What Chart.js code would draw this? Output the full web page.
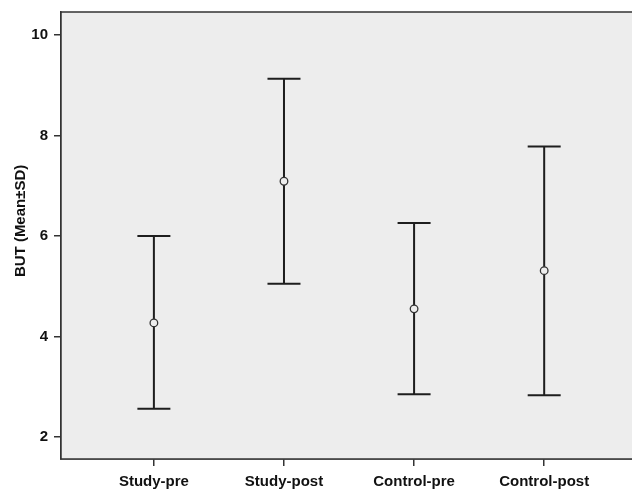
<!DOCTYPE html>
<html>
<head>
<meta charset="utf-8">
<script src="https://cdn.jsdelivr.net/npm/chart.js@4/dist/chart.umd.min.js"></script>
<style>
    html, body { margin: 0; padding: 0; background: #fff; }
    #wrap { width: 632px; height: 491px; }
</style>
</head>
<body>
<div id="wrap"><canvas id="butChart" width="632" height="491"></canvas></div>
<script>
const groups = ['Study-pre', 'Study-post', 'Control-pre', 'Control-post'];
const means = [4.27, 7.09, 4.55, 5.31];
const upperSd = [6.0, 9.13, 6.26, 7.78];
const lowerSd = [2.56, 5.05, 2.85, 2.83];
const yTicks = [2, 4, 6, 8, 10];

const ink = '#1e1e1e';
const fontFamily = 'Liberation Sans, Arial, sans-serif';

// plot background, frame and the SD whiskers
const errorBars = {
    id: 'errorBars',
    beforeDatasetsDraw(chart) {
        const { ctx, chartArea } = chart;
        ctx.save();
        ctx.fillStyle = '#ededed';
        ctx.fillRect(chartArea.left, chartArea.top, chartArea.width, chartArea.height);
        ctx.strokeStyle = '#333';
        ctx.lineWidth = 1.5;
        ctx.strokeRect(chartArea.left, chartArea.top, chartArea.width + 20, chartArea.height);
        ctx.restore();
    },
    afterDatasetsDraw(chart) {
        const { ctx, scales } = chart;
        const capHalf = 16.5;
        ctx.save();
        ctx.strokeStyle = ink;
        ctx.lineWidth = 2;
        groups.forEach((_, i) => {
            const x = scales.x.getPixelForValue(i);
            const yTop = scales.y.getPixelForValue(upperSd[i]);
            const yBot = scales.y.getPixelForValue(lowerSd[i]);
            ctx.beginPath();
            ctx.moveTo(x, yTop);
            ctx.lineTo(x, yBot);
            ctx.moveTo(x - capHalf, yTop);
            ctx.lineTo(x + capHalf, yTop);
            ctx.moveTo(x - capHalf, yBot);
            ctx.lineTo(x + capHalf, yBot);
            ctx.stroke();
        });
        ctx.restore();
        // redraw mean circles on top of the whiskers
        const meta = chart.getDatasetMeta(0);
        ctx.save();
        meta.data.forEach((pt) => {
            ctx.beginPath();
            ctx.arc(pt.x, pt.y, 3.8, 0, Math.PI * 2);
            ctx.fillStyle = '#ededed';
            ctx.fill();
            ctx.lineWidth = 1.3;
            ctx.strokeStyle = '#333';
            ctx.stroke();
        });
        ctx.restore();
    }
};

new Chart(document.getElementById('butChart'), {
    type: 'scatter',
    data: {
        datasets: [{
            label: 'Mean',
            data: means.map((m, i) => ({ x: i, y: m })),
            pointRadius: 0,
            pointHoverRadius: 0,
            showLine: false
        }]
    },
    options: {
        responsive: false,
        animation: false,
        events: [],
        layout: { padding: { top: 12, right: 0, left: 0, bottom: 0 } },
        plugins: {
            legend: { display: false },
            tooltip: { enabled: false }
        },
        scales: {
            x: {
                type: 'linear',
                min: -0.714,
                max: 3.675,
                afterBuildTicks: (scale) => {
                    scale.ticks = groups.map((_, i) => ({ value: i }));
                },
                afterFit: (scale) => {
                    scale.height = 32;
                    scale.paddingLeft = 0;
                    scale.paddingRight = 0;
                },
                ticks: {
                    autoSkip: false,
                    maxRotation: 0,
                    padding: 7,
                    color: '#111',
                    font: { family: fontFamily, size: 15, weight: 'bold' },
                    callback: (value) => groups[value] ?? ''
                },
                grid: {
                    drawOnChartArea: false,
                    drawTicks: true,
                    tickLength: 7,
                    color: '#333',
                    lineWidth: 1.5
                },
                border: { display: true, color: '#333', width: 1.5 }
            },
            y: {
                min: 1.56,
                max: 10.46,
                afterBuildTicks: (scale) => {
                    scale.ticks = yTicks.map((v) => ({ value: v }));
                },
                afterFit: (scale) => {
                    scale.width = 61;
                    scale.paddingTop = 0;
                    scale.paddingBottom = 0;
                },
                ticks: {
                    padding: 6,
                    color: '#111',
                    font: { family: fontFamily, size: 15, weight: 'bold' }
                },
                grid: {
                    drawOnChartArea: false,
                    drawTicks: true,
                    tickLength: 7,
                    color: '#333',
                    lineWidth: 1.5
                },
                border: { display: true, color: '#333', width: 1.5 },
                title: {
                    display: true,
                    text: '       BUT (Mean\u00B1SD)',
                    color: '#111',
                    padding: { top: 12, bottom: 0 },
                    font: { family: fontFamily, size: 15, weight: 'bold' }
                }
            }
        }
    },
    plugins: [errorBars]
});
</script>
</body>
</html>
